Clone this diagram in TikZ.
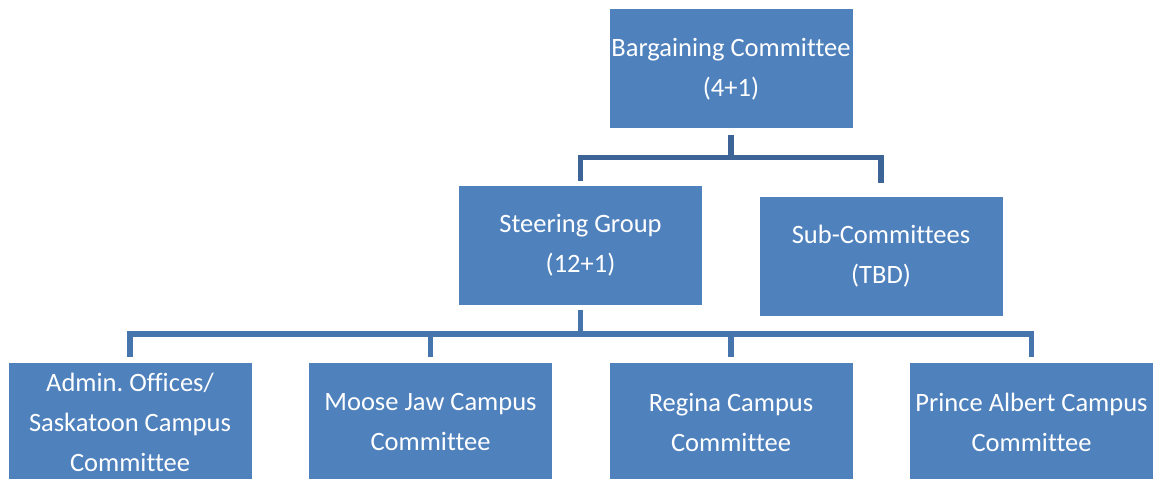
\documentclass[tikz,border=0pt]{standalone}
\usepackage{fontspec}
\setmainfont{Carlito}[Ligatures=NoCommon]
\frenchspacing
\definecolor{boxblue}{HTML}{4F81BD}
\definecolor{linkdark}{HTML}{3C6496}
\definecolor{linklight}{HTML}{4675AE}
\tikzset{
    unit/.style={rectangle, fill=boxblue, text=white, align=center,
        minimum width=243, minimum height=119, inner sep=0pt,
        font=\fontsize{26.5}{40}\selectfont},
    link/.style={line width=5.5pt},
}

\begin{document}
\begin{tikzpicture}[x=1pt, y=1pt]
    \useasboundingbox (0,0) rectangle (1157,479);
    \pgfmathsetmacro{\rowy}{56.5}  % centre height of the campus row
    % top levels
    \node[unit] (bargain) at (731,410) {Bargaining Committee\\(4+1)};
    \node[unit] (steer) at (580.5,233.5) {Steering Group\\(12+1)};
    \node[unit] (subcom) at (881,222.5) {Sub-Committees\\(TBD)};
    % campus committees
    \node[unit] (admin) at (130,\rowy) {Admin. Offices/\\Saskatoon Campus\\Committee};
    \node[unit] (moose) at (430.5,\rowy) {Moose Jaw Campus\\Committee};
    \node[unit] (regina) at (731,\rowy) {Regina Campus\\Committee};
    \node[unit] (prince) at (1031.5,\rowy) {Prince Albert Campus\\Committee};
    % Syntax: stem down from the parent, then -| to each child
    \draw[link, linkdark] ([yshift=-6]bargain.south) -- ++(0,-23) coordinate (topjoin);
    \draw[link, linkdark] (topjoin) -| ([yshift=5]steer.north);
    \draw[link, linkdark] (topjoin) -| ([yshift=14]subcom.north);
    \draw[link, linklight] ([yshift=-5]steer.south) -- ++(0,-24) coordinate (rowjoin);
    \foreach \c in {admin, moose, regina, prince}
        \draw[link, linklight] (rowjoin) -| ([yshift=6]\c.north);
\end{tikzpicture}
\end{document}
